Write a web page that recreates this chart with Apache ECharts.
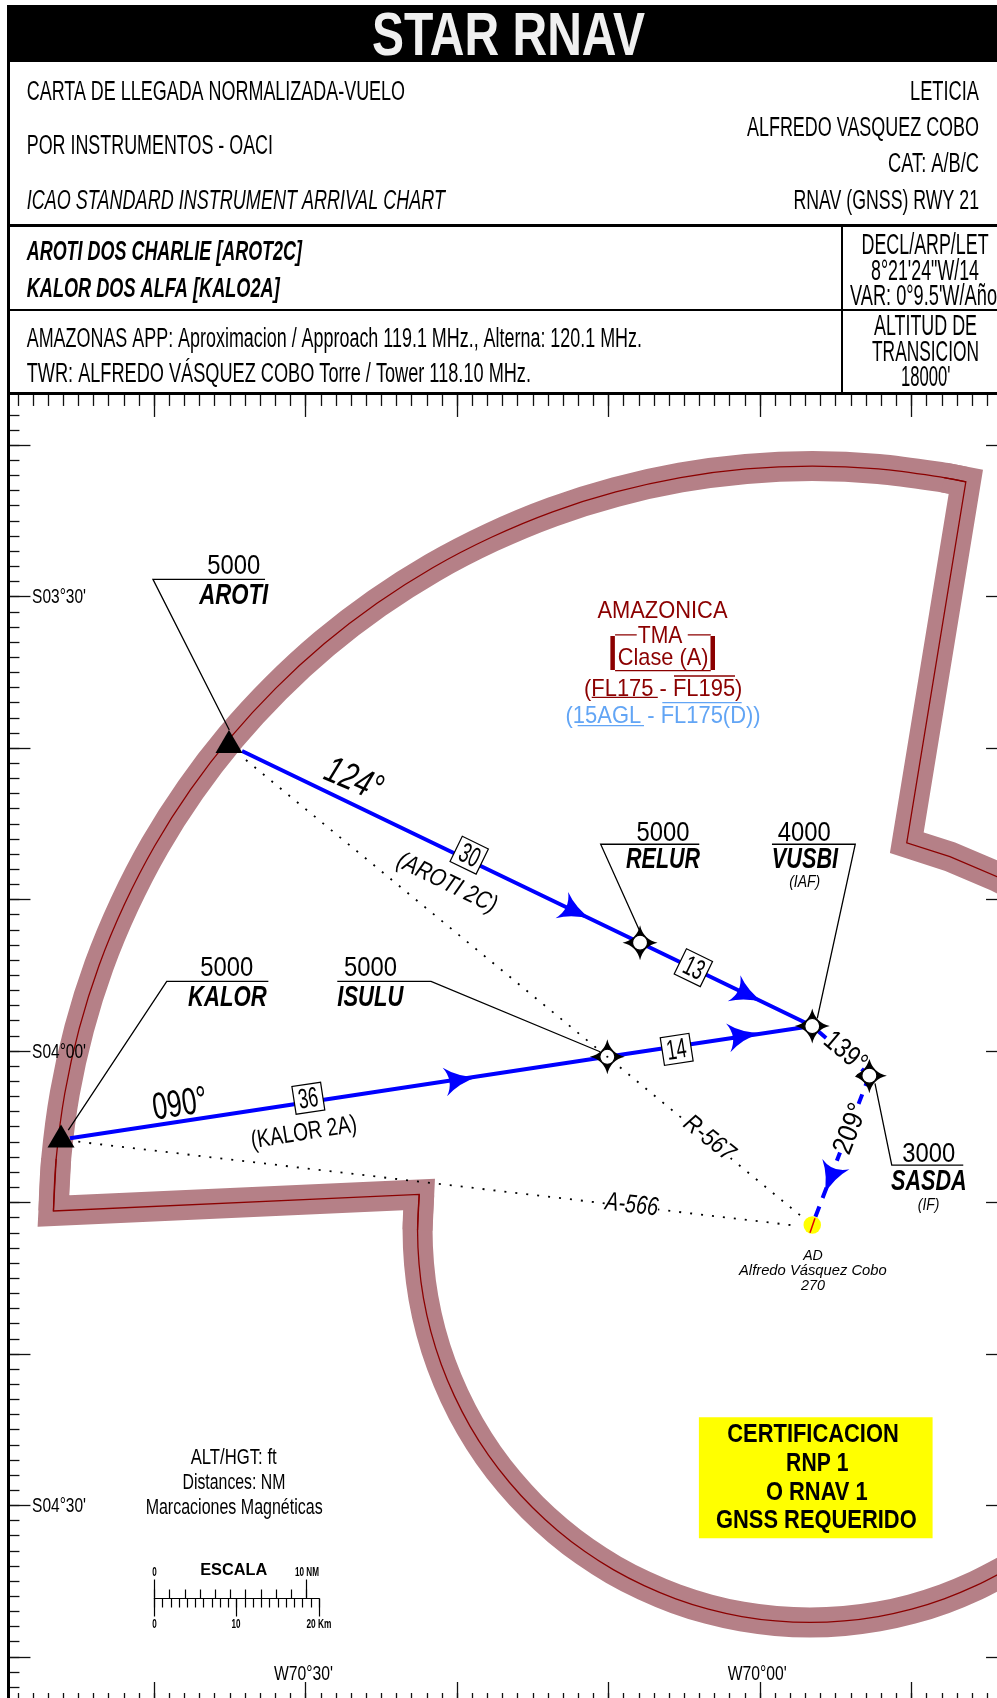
<!DOCTYPE html>
<html>
<head>
<meta charset="utf-8">
<title>STAR RNAV</title>
<script src="https://cdn.jsdelivr.net/npm/echarts@6/dist/echarts.min.js"></script>
<style>
  html, body { margin: 0; padding: 0; background: #fff; }
  #chart { width: 997px; height: 1698px; }
</style>
</head>
<body>
<div id="chart"></div>
<script>
// all map positions are arc minutes: longitude (W negative) and latitude (S negative)
const lonMinorRange = [-4249, -4184];
const latMinorRange = [-283, -198];
const lonMajorTicks = [-4240, -4230, -4220, -4210, -4200, -4190];
const latMajorTicks = [-200, -210, -220, -230, -240, -250, -260, -270, -280];

// TMA boundary. Arcs are smoothed, the edges keep their sharp corners
const tmaEastEdge = [
  [-4183.16, -229.11], [-4184.35, -228.49], [-4187.46, -227.17], [-4190.31, -226.25],
  [-4186.41, -202.42], [-4187.85, -202.14]
];
const tmaArcNorth = [
  [-4186.41, -202.42], [-4187.85, -202.14], [-4192.18, -201.57], [-4196.55, -201.38],
  [-4200.92, -201.57], [-4205.25, -202.14], [-4209.52, -203.09], [-4213.69, -204.40],
  [-4217.73, -206.08], [-4221.61, -208.09], [-4225.29, -210.44], [-4228.76, -213.10],
  [-4231.98, -216.06], [-4234.94, -219.28], [-4237.60, -222.75], [-4239.95, -226.43],
  [-4241.96, -230.31], [-4243.64, -234.35], [-4244.95, -238.52], [-4245.90, -242.79],
  [-4246.47, -247.12], [-4246.65, -250.56]
];
const tmaSouthEdge = [
  [-4246.47, -247.12], [-4246.65, -250.56], [-4222.50, -249.47], [-4222.61, -251.82]
];
const tmaArcSouth = [
  [-4222.50, -249.47], [-4222.61, -251.82], [-4222.51, -254.08], [-4222.22, -256.32],
  [-4221.73, -258.53], [-4221.05, -260.68], [-4220.18, -262.77], [-4219.14, -264.78],
  [-4217.93, -266.68], [-4216.55, -268.47], [-4215.02, -270.14], [-4213.35, -271.67],
  [-4211.56, -273.05], [-4209.66, -274.26], [-4207.65, -275.30], [-4205.56, -276.17],
  [-4203.41, -276.85], [-4201.20, -277.34], [-4198.96, -277.63], [-4196.70, -277.73],
  [-4194.44, -277.63], [-4192.20, -277.34], [-4189.99, -276.85], [-4187.84, -276.17],
  [-4185.75, -275.30], [-4183.74, -274.26]
];

// waypoints
const aroti = [-4235.06, -219.57];
const kalor = [-4246.15, -245.61];
const relur = [-4207.92, -232.85];
const vusbi = [-4196.55, -238.35];
const sasda = [-4192.78, -241.63];
const isulu = [-4210.08, -240.38];
const aerodrome = [-4196.55, -251.49];

// routes
const routeAroti = [[-4234.20, -220.19], relur, vusbi];
const routeKalor = [[-4245.56, -245.76], isulu, vusbi];
const routeVusbiSasda = [vusbi, sasda];
const routeFinal = [sasda, aerodrome];
const runway = [[-4196.37, -251.05], [-4196.70, -252.00]];
const radialR567 = [[-4233.94, -220.79], [-4197.03, -251.11]];
const radialA566 = [[-4245.01, -245.99], [-4197.47, -251.55]];

// leader lines from the name labels to the waypoints
const leaders = [
  [[-4232.68, -208.86], [-4240.08, -208.86], [-4235.04, -218.81]],
  [[-4204.01, -226.35], [-4210.52, -226.35], [-4207.92, -232.12]],
  [[-4199.21, -226.35], [-4193.71, -226.35], [-4196.22, -237.84]],
  [[-4192.41, -242.13], [-4191.30, -247.53], [-4186.58, -247.53]],
  [[-4232.46, -235.40], [-4239.17, -235.40], [-4245.67, -245.22]],
  [[-4227.91, -235.40], [-4221.72, -235.40], [-4210.56, -240.05]]
];

const arrowPoints = [
  [-4212.10, -230.84], [-4200.73, -236.33], [-4201.02, -238.97], [-4219.73, -241.88], [-4195.38, -248.49]
];
const arrowRotation = [-25.7, -25.7, 8.5, 8.7, -110.9];

const distancePoints = [[-4219.20, -227.07], [-4204.40, -234.50], [-4205.50, -239.89], [-4229.82, -243.12]];
const distanceRotation = [-26, -26, 8.7, 8.7];

const certBoxCentre = [[-4196.32, -268.18]];

// the TMA class block rules
const tmaRedRules = [
  [[-4209.57, -212.53], [-4208.14, -212.53]],
  [[-4204.77, -212.53], [-4203.25, -212.53]],
  [[-4209.57, -214.89], [-4203.25, -214.89]],
  [[-4211.11, -216.65], [-4206.75, -216.65]],
  [[-4205.68, -215.24], [-4201.65, -215.24]]
];
const tmaRedBars = [
  [[-4209.73, -212.60], [-4209.73, -214.84]],
  [[-4203.12, -212.60], [-4203.12, -214.84]]
];
const tmaBlueRules = [
  [[-4212.04, -218.52], [-4207.66, -218.52]],
  [[-4206.45, -217.00], [-4201.21, -217.00]]
];

// scale bar
const kmRange = [0, 20];
const nmRange = [0, 10];
const kmMajor = [0, 10, 20];
const nmMajor = [0, 10];

const RED = '#8b0000';
const SKY = '#62a5f5';
const BLUE = '#0000ff';
const ARIAL = '"Liberation Sans", Arial, sans-serif';

// text on the map, anchored at its centre. w is the drawn width, the source lettering is squeezed
const mapLabels = [
  { t: '5000', lon: -4234.75, lat: -207.93, s: 28, w: 53 },
  { t: 'AROTI', lon: -4234.75, lat: -209.85, s: 30, w: 69, f: 'italic bold' },
  { t: '5000', lon: -4235.21, lat: -234.45, s: 28, w: 53 },
  { t: 'KALOR', lon: -4235.17, lat: -236.38, s: 30, w: 78.7, f: 'italic bold' },
  { t: '5000', lon: -4225.72, lat: -234.45, s: 28, w: 53 },
  { t: 'ISULU', lon: -4225.73, lat: -236.38, s: 30, w: 66, f: 'italic bold' },
  { t: '5000', lon: -4206.40, lat: -225.52, s: 28, w: 53 },
  { t: 'RELUR', lon: -4206.40, lat: -227.29, s: 30, w: 74, f: 'italic bold' },
  { t: '4000', lon: -4197.08, lat: -225.52, s: 28, w: 53 },
  { t: 'VUSBI', lon: -4197.03, lat: -227.29, s: 30, w: 66.3, f: 'italic bold' },
  { t: '(IAF)', lon: -4197.05, lat: -228.80, s: 16, w: 31, f: 'italic' },
  { t: '3000', lon: -4188.86, lat: -246.73, s: 28, w: 53 },
  { t: 'SASDA', lon: -4188.85, lat: -248.52, s: 30, w: 75.7, f: 'italic bold' },
  { t: '(IF)', lon: -4188.87, lat: -250.15, s: 16, w: 21.6, f: 'italic' },
  { t: 'AD', lon: -4196.50, lat: -253.47, s: 14, w: 19.7, f: 'italic' },
  { t: 'Alfredo Vásquez Cobo', lon: -4196.51, lat: -254.46, s: 14.5, w: 147.7, f: 'italic' },
  { t: '270', lon: -4196.50, lat: -255.48, s: 14, w: 24, f: 'italic' },
  { t: '124°', lon: -4226.85, lat: -222.00, s: 38, w: 59, r: -23, f: 'italic' },
  { t: '090°', lon: -4238.29, lat: -243.45, s: 38, w: 55, r: 8.7 },
  { t: '(KALOR 2A)', lon: -4230.11, lat: -245.33, s: 25, w: 107, r: 9 },
  { t: '(AROTI 2C)', lon: -4220.67, lat: -228.84, s: 25, w: 108, r: -26, f: 'italic' },
  { t: 'R-567', lon: -4203.37, lat: -245.70, s: 25, w: 58, r: -39, f: 'italic', bg: true },
  { t: 'A-566', lon: -4208.47, lat: -250.10, s: 26, w: 53, r: -6.7, f: 'italic', bg: true },
  { t: '139°', lon: -4194.39, lat: -239.98, s: 28, w: 47, r: -40, bg: true },
  { t: '209°', lon: -4193.98, lat: -245.05, s: 28, w: 52, r: 69, bg: true },
  { t: '30', lon: -4219.20, lat: -227.07, s: 28, w: 20, r: -26 },
  { t: '13', lon: -4204.40, lat: -234.50, s: 28, w: 20, r: -26 },
  { t: '14', lon: -4205.50, lat: -239.89, s: 28, w: 20, r: 8.7 },
  { t: '36', lon: -4229.82, lat: -243.12, s: 28, w: 20, r: 8.7 },
  { t: 'AMAZONICA', lon: -4206.44, lat: -210.93, s: 23, w: 130, c: RED },
  { t: 'TMA', lon: -4206.60, lat: -212.53, s: 24, w: 44.6, c: RED },
  { t: 'Clase (A)', lon: -4206.40, lat: -213.99, s: 24, w: 90.6, c: RED },
  { t: '(FL175 - FL195)', lon: -4206.39, lat: -216.05, s: 24, w: 158.3, c: RED },
  { t: '(15AGL - FL175(D))', lon: -4206.40, lat: -217.86, s: 24, w: 195, c: SKY },
  { t: 'ALT/HGT: ft', lon: -4234.75, lat: -266.77, s: 22, w: 86 },
  { t: 'Distances: NM', lon: -4234.73, lat: -268.42, s: 22, w: 103 },
  { t: 'Marcaciones Magnéticas', lon: -4234.72, lat: -270.07, s: 22, w: 177 },
  { t: 'ESCALA', lon: -4234.75, lat: -274.23, s: 16, w: 67, f: 'bold' },
  { t: '0', lon: -4239.98, lat: -274.43, s: 12, w: 4.5, f: 'bold' },
  { t: '10 NM', lon: -4229.91, lat: -274.43, s: 12, w: 24, f: 'bold' },
  { t: '0', lon: -4239.98, lat: -277.86, s: 12, w: 4.5, f: 'bold' },
  { t: '10', lon: -4234.60, lat: -277.86, s: 12, w: 9, f: 'bold' },
  { t: '20 Km', lon: -4229.12, lat: -277.86, s: 12, w: 25, f: 'bold' },
  { t: 'CERTIFICACION', lon: -4196.50, lat: -265.31, s: 25, w: 171.4, f: 'bold' },
  { t: 'RNP 1', lon: -4196.22, lat: -267.20, s: 25, w: 62.3, f: 'bold' },
  { t: 'O RNAV 1', lon: -4196.25, lat: -269.10, s: 25, w: 101.7, f: 'bold' },
  { t: 'GNSS REQUERIDO', lon: -4196.28, lat: -270.97, s: 25, w: 200.7, f: 'bold' },
  { t: "S03°30'", lon: -4246.28, lat: -210, s: 20, w: 54 },
  { t: "S04°00'", lon: -4246.28, lat: -240, s: 20, w: 54 },
  { t: "S04°30'", lon: -4246.28, lat: -270, s: 20, w: 54 },
  { t: "W70°30'", lon: -4230.14, lat: -281.13, s: 20, w: 59 },
  { t: "W70°00'", lon: -4200.18, lat: -281.13, s: 20, w: 59 }
];

// title block text: left edge, right edge, middle y, font size
const headerTexts = [
  ['CARTA DE LLEGADA NORMALIZADA-VUELO', 26.7, 405, 91.4, 27],
  ['POR INSTRUMENTOS - OACI', 26.7, 273, 145.4, 27],
  ['ICAO STANDARD INSTRUMENT ARRIVAL CHART', 26.7, 445, 200.4, 27, 'italic'],
  ['LETICIA', 910, 979, 91.4, 27],
  ['ALFREDO VASQUEZ COBO', 747, 979, 126.7, 27],
  ['CAT: A/B/C', 888, 979, 163.5, 27],
  ['RNAV (GNSS) RWY 21', 793.5, 979, 200.4, 27],
  ['AROTI DOS CHARLIE [AROT2C]', 26.7, 302, 251.4, 27, 'italic bold'],
  ['KALOR DOS ALFA [KALO2A]', 26.7, 279.7, 288, 27, 'italic bold'],
  ['DECL/ARP/LET', 861.5, 988.6, 244.7, 29],
  ["8°21'24\"W/14", 871, 979, 270.7, 29],
  ["VAR: 0°9.5'W/Año", 850, 997, 295.4, 29],
  ['AMAZONAS APP: Aproximacion / Approach 119.1 MHz., Alterna: 120.1 MHz.', 26.7, 642, 337.7, 27],
  ['TWR: ALFREDO VÁSQUEZ COBO Torre / Tower 118.10 MHz.', 26.7, 531, 373.3, 27],
  ['ALTITUD DE', 874, 977, 325.4, 29],
  ['TRANSICION', 872, 979, 352, 29],
  ["18000'", 901, 950.5, 376.7, 29]
];

const measure = document.createElement('canvas').getContext('2d');
function squeeze(text, font, width) {
  measure.font = font;
  return width / measure.measureText(text).width;
}

const headerGraphics = [
  { type: 'rect', shape: { x: 7, y: 5, width: 990, height: 57 }, style: { fill: '#000' } },
  { type: 'rect', shape: { x: 7, y: 5, width: 3, height: 1693 }, style: { fill: '#000' } },
  { type: 'rect', shape: { x: 7, y: 224, width: 990, height: 3 }, style: { fill: '#000' } },
  { type: 'rect', shape: { x: 7, y: 309, width: 990, height: 2 }, style: { fill: '#000' } },
  { type: 'rect', shape: { x: 7, y: 392, width: 990, height: 3 }, style: { fill: '#000' } },
  { type: 'rect', shape: { x: 841, y: 225, width: 2, height: 168 }, style: { fill: '#000' } }
];
const titleFont = 'bold 61px ' + ARIAL;
headerGraphics.push({
  type: 'text', x: 508.5, y: 35 + 3, scaleX: squeeze('STAR RNAV', titleFont, 273),
  style: { text: 'STAR RNAV', font: titleFont, fill: '#f0f0f0', align: 'center', verticalAlign: 'middle' }
});
headerTexts.forEach(function (h) {
  const font = (h[5] ? h[5] + ' ' : '') + h[4] + 'px ' + ARIAL;
  headerGraphics.push({
    type: 'text', x: (h[1] + h[2]) / 2, y: h[3] + h[4] * 0.05, scaleX: squeeze(h[0], font, h[2] - h[1]),
    style: { text: h[0], font: font, fill: '#000', align: 'center', verticalAlign: 'middle' }
  });
});

function line(points, color, width, z, extra) {
  return {
    type: 'line', data: points, symbol: 'none', silent: true, animation: false, z: z,
    lineStyle: Object.assign({ color: color, width: width, cap: 'butt', join: 'miter', miterLimit: 10 }, extra || {})
  };
}
function arc(points, color, width, z) {
  return Object.assign(line(points, color, width, z), { smooth: 0.33 });
}

function frameAxis(extra) {
  return Object.assign({
    type: 'value', gridIndex: 0, splitLine: { show: false }, axisLine: { show: false }, axisLabel: { show: false }
  }, extra);
}
function scaleAxis(extra) {
  return Object.assign({
    type: 'value', splitLine: { show: false }, axisLine: { show: false }, axisLabel: { show: false }
  }, extra);
}
const tickStyle = { color: '#111', width: 1.3 };
const scaleTick = { color: '#000', width: 1.2 };

// lon/lat frame, one axis for every minute and one on top of it for every ten minutes
const lonBase = { min: lonMinorRange[0], max: lonMinorRange[1] };
const latBase = { min: latMinorRange[0], max: latMinorRange[1] };
const xAxes = [
  frameAxis(Object.assign({}, lonBase, { position: 'top', offset: 20.9, interval: 1, axisTick: { inside: true, length: 12, lineStyle: tickStyle } })),
  frameAxis(Object.assign({}, lonBase, { position: 'top', offset: 20.9, axisTick: { inside: true, length: 23, customValues: lonMajorTicks, lineStyle: tickStyle } })),
  frameAxis(Object.assign({}, lonBase, { position: 'bottom', offset: 1.7, interval: 1, axisTick: { inside: true, length: 11, lineStyle: tickStyle } })),
  frameAxis(Object.assign({}, lonBase, { position: 'bottom', offset: 1.7, axisTick: { inside: true, length: 22, customValues: lonMajorTicks, lineStyle: tickStyle } })),
  // scale bar
  scaleAxis({
    gridIndex: 1, position: 'bottom', min: kmRange[0], max: kmRange[1], interval: 1,
    axisLine: { show: true, onZero: false, lineStyle: { color: '#000', width: 1.2 } },
    axisTick: { length: 9, lineStyle: scaleTick }
  }),
  scaleAxis({ gridIndex: 1, position: 'bottom', min: kmRange[0], max: kmRange[1], axisTick: { length: 18, customValues: kmMajor, lineStyle: scaleTick } }),
  scaleAxis({ gridIndex: 2, position: 'top', min: nmRange[0], max: nmRange[1], interval: 1, axisTick: { length: 9, lineStyle: scaleTick } }),
  scaleAxis({ gridIndex: 2, position: 'top', min: nmRange[0], max: nmRange[1], axisTick: { length: 18, customValues: nmMajor, lineStyle: scaleTick } })
];
const yAxes = [
  frameAxis(Object.assign({}, latBase, { position: 'left', offset: 9.4, interval: 1, axisTick: { inside: true, length: 11, lineStyle: tickStyle } })),
  frameAxis(Object.assign({}, latBase, { position: 'left', offset: 9.4, axisTick: { inside: true, length: 22, customValues: latMajorTicks, lineStyle: tickStyle } })),
  frameAxis(Object.assign({}, latBase, { position: 'right', axisTick: { inside: true, length: 16.3, customValues: latMajorTicks, lineStyle: tickStyle } })),
  { type: 'value', gridIndex: 1, show: false, min: 0, max: 1 },
  { type: 'value', gridIndex: 2, show: false, min: 0, max: 1 }
];

const starPath = 'path://M16 0Q19 13 32 16Q19 19 16 32Q13 19 0 16Q13 13 16 0Z';
const arrowPath = 'path://M28 12.5Q12 10 0 0Q8 12.5 0 25Q12 15 28 12.5Z';

const series = [
  arc(tmaArcNorth, '#b58087', 30, 2),
  arc(tmaArcSouth, '#b58087', 30, 2),
  line(tmaEastEdge, '#b58087', 30, 2),
  line(tmaSouthEdge, '#b58087', 30, 2),
  arc(tmaArcNorth, RED, 1.3, 3),
  arc(tmaArcSouth, RED, 1.3, 3),
  line(tmaEastEdge, RED, 1.3, 3),
  line(tmaSouthEdge, RED, 1.3, 3),
  line(radialR567, '#000', 1.8, 4, { type: [2, 9] }),
  line(radialA566, '#000', 1.8, 4, { type: [2, 9] }),
  line(routeAroti, BLUE, 4, 5),
  line(routeKalor, BLUE, 4, 5),
  line(routeVusbiSasda, BLUE, 4, 5),
  line(routeFinal, BLUE, 4, 5, { type: [11, 9] })
];
leaders.forEach(function (l) { series.push(line(l, '#000', 1.3, 6)); });
tmaRedRules.forEach(function (l) { series.push(line(l, RED, 1.3, 6)); });
tmaRedBars.forEach(function (l) { series.push(line(l, RED, 4.5, 6)); });
tmaBlueRules.forEach(function (l) { series.push(line(l, SKY, 1.3, 6)); });

series.push(
  {
    type: 'scatter', data: certBoxCentre, symbol: 'rect', symbolSize: [233.7, 121], silent: true, animation: false, z: 2,
    itemStyle: { color: '#ffff00', opacity: 1 }
  },
  {
    type: 'scatter', data: [aerodrome], symbol: 'circle', symbolSize: 17.5, silent: true, animation: false, z: 7,
    itemStyle: { color: '#ffff00', opacity: 1 }
  },
  line(runway, '#e00000', 1.5, 8),
  {
    type: 'scatter', data: arrowPoints, symbol: arrowPath, symbolSize: [33, 29], silent: true, animation: false, z: 9,
    symbolRotate: function (v, p) { return arrowRotation[p.dataIndex]; },
    itemStyle: { color: BLUE, opacity: 1 }
  },
  {
    type: 'scatter', data: [aroti, kalor], symbol: 'triangle', symbolSize: [27, 23], silent: true, animation: false, z: 9,
    itemStyle: { color: '#000', opacity: 1 }
  },
  {
    type: 'scatter', data: [relur, vusbi, sasda, isulu], symbol: starPath, symbolSize: 35, silent: true, animation: false, z: 9,
    itemStyle: { color: '#000', opacity: 1 }
  },
  {
    type: 'scatter', data: [relur, vusbi, sasda, isulu], symbol: 'circle', symbolSize: 15, silent: true, animation: false, z: 10,
    itemStyle: { color: '#fff', borderColor: '#000', borderWidth: 1.2, opacity: 1 }
  },
  {
    type: 'scatter', data: [isulu], symbol: 'circle', symbolSize: 2.2, silent: true, animation: false, z: 11,
    itemStyle: { color: '#000', opacity: 1 }
  },
  {
    type: 'scatter', data: distancePoints, symbol: 'rect', symbolSize: [29, 28], silent: true, animation: false, z: 11,
    symbolRotate: function (v, p) { return distanceRotation[p.dataIndex]; },
    itemStyle: { color: '#fff', borderColor: '#000', borderWidth: 1.2, opacity: 1 }
  },
  {
    type: 'custom', coordinateSystem: 'cartesian2d', silent: true, animation: false, z: 12,
    data: mapLabels.map(function (m) { return [m.lon, m.lat]; }),
    encode: { x: 0, y: 1 },
    renderItem: function (params, api) {
      const m = mapLabels[params.dataIndex];
      const p = api.coord([api.value(0), api.value(1)]);
      const font = (m.f ? m.f + ' ' : '') + m.s + 'px ' + ARIAL;
      return {
        type: 'text', x: p[0], y: p[1] + m.s * 0.05, rotation: (m.r || 0) * Math.PI / 180,
        scaleX: squeeze(m.t, font, m.w),
        style: {
          text: m.t, font: font, fill: m.c || '#000', align: 'center', verticalAlign: 'middle',
          backgroundColor: m.bg ? '#fff' : null
        }
      };
    }
  }
);

const chart = echarts.init(document.getElementById('chart'), null, { renderer: 'canvas' });
chart.setOption({
  animation: false,
  backgroundColor: '#fff',
  tooltip: { show: false },
  grid: [
    { left: 17.85, top: 414.87, width: 984.49, height: 1287.41, outerBoundsMode: 'none' },
    { left: 154.3, top: 1597.5, width: 164.7, height: 1, outerBoundsMode: 'none' },
    { left: 154.3, top: 1597.5, width: 152.4, height: 1, outerBoundsMode: 'none' }
  ],
  xAxis: xAxes,
  yAxis: yAxes,
  graphic: { elements: headerGraphics.map(function (g) { return Object.assign({ silent: true, z: 20 }, g); }) },
  series: series
});
</script>
</body>
</html>
